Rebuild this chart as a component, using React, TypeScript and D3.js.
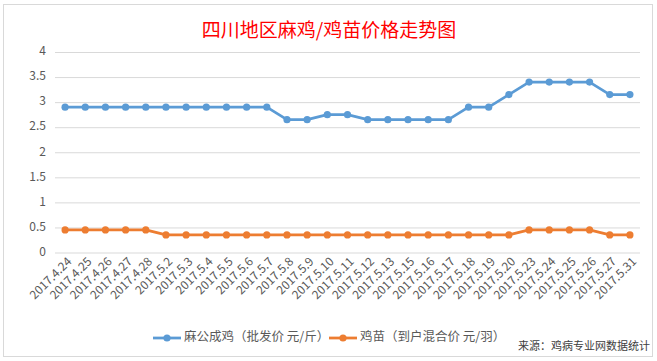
import React from "react";
import * as d3 from "d3";

const categories = [
  "2017.4.24", "2017.4.25", "2017.4.26", "2017.4.27", "2017.4.28",
  "2017.5.2", "2017.5.3", "2017.5.4", "2017.5.5", "2017.5.6", "2017.5.7",
  "2017.5.8", "2017.5.9", "2017.5.10", "2017.5.11", "2017.5.12", "2017.5.13",
  "2017.5.15", "2017.5.16", "2017.5.17", "2017.5.18", "2017.5.19", "2017.5.20",
  "2017.5.23", "2017.5.24", "2017.5.25", "2017.5.26", "2017.5.27", "2017.5.31",
];

const broilerPrice = [
  2.9, 2.9, 2.9, 2.9, 2.9, 2.9, 2.9, 2.9, 2.9, 2.9, 2.9,
  2.65, 2.65, 2.75, 2.75, 2.65, 2.65, 2.65, 2.65, 2.65,
  2.9, 2.9, 3.15, 3.4, 3.4, 3.4, 3.4, 3.15, 3.15,
];

const chickPrice = [
  0.45, 0.45, 0.45, 0.45, 0.45,
  0.35, 0.35, 0.35, 0.35, 0.35, 0.35, 0.35, 0.35, 0.35, 0.35, 0.35, 0.35,
  0.35, 0.35, 0.35, 0.35, 0.35, 0.35,
  0.45, 0.45, 0.45, 0.45, 0.35, 0.35,
];

const yTicks = [0, 0.5, 1, 1.5, 2, 2.5, 3, 3.5, 4];

const title = "四川地区麻鸡/鸡苗价格走势图";
const seriesNames = ["麻公成鸡（批发价 元/斤）", "鸡苗（到户混合价 元/羽）"];
const sourceText = "来源：鸡病专业网数据统计";

const W = 657;
const H = 361;
const BLUE = "#5B9BD5";
const ORANGE = "#ED7D31";
const FONT = "'Noto Sans CJK SC', 'Noto Sans', sans-serif";

export default function App() {
  const x = d3.scaleBand<string>().domain(categories).range([55, 640]);
  const y = d3.scaleLinear().domain([0, 4]).range([252.5, 52]);
  const cx = (c: string) => (x(c) as number) + x.bandwidth() / 2;

  const line = d3
    .line<number>()
    .x((_, i) => cx(categories[i]))
    .y((d) => y(d));

  const series = [
    { name: seriesNames[0], data: broilerPrice, color: BLUE },
    { name: seriesNames[1], data: chickPrice, color: ORANGE },
  ];

  const legendItems = [
    { name: seriesNames[0], color: BLUE, x: 153 },
    { name: seriesNames[1], color: ORANGE, x: 329 },
  ];

  return (
    <svg
      width={W}
      height={H}
      style={{ position: "absolute", left: 0, top: 0, background: "#fff" }}
      fontFamily={FONT}
    >
      <rect x={3.5} y={4.5} width={649} height={352} fill="#fff" stroke="#d9d9d9" />
      <text
        x={329}
        y={32}
        textAnchor="middle"
        dominantBaseline="middle"
        fill="#FF0000"
        fontSize={19}
      >
        {title}
      </text>

      {yTicks.map((t) => (
        <g key={t}>
          <line x1={55} x2={640} y1={y(t) + 0.5} y2={y(t) + 0.5} stroke="#d9d9d9" />
          <text
            x={46}
            y={y(t)}
            textAnchor="end"
            dominantBaseline="middle"
            fill="#595959"
            fontSize={12}
          >
            {t}
          </text>
        </g>
      ))}

      {categories.map((c) => (
        <text
          key={c}
          transform={`translate(${cx(c) + 5},${260}) rotate(-45)`}
          textAnchor="end"
          dominantBaseline="middle"
          fill="#595959"
          fontSize={12}
        >
          {c}
        </text>
      ))}

      {series.map((s) => (
        <g key={s.name}>
          <path d={line(s.data) || ""} fill="none" stroke={s.color} strokeWidth={2.75} strokeLinejoin="round" />
          {s.data.map((v, i) => (
            <circle key={i} cx={cx(categories[i])} cy={y(v)} r={3.6} fill={s.color} />
          ))}
        </g>
      ))}

      {legendItems.map((l) => (
        <g key={l.name}>
          <line x1={l.x} x2={l.x + 28} y1={338} y2={338} stroke={l.color} strokeWidth={2.75} />
          <circle cx={l.x + 14} cy={338} r={3.6} fill={l.color} />
          <text x={l.x + 31} y={338} dominantBaseline="middle" fill="#595959" fontSize={12.5}>
            {l.name}
          </text>
        </g>
      ))}

      <text x={650} y={347} textAnchor="end" dominantBaseline="middle" fill="#404040" fontSize={11}>
        {sourceText}
      </text>
    </svg>
  );
}
